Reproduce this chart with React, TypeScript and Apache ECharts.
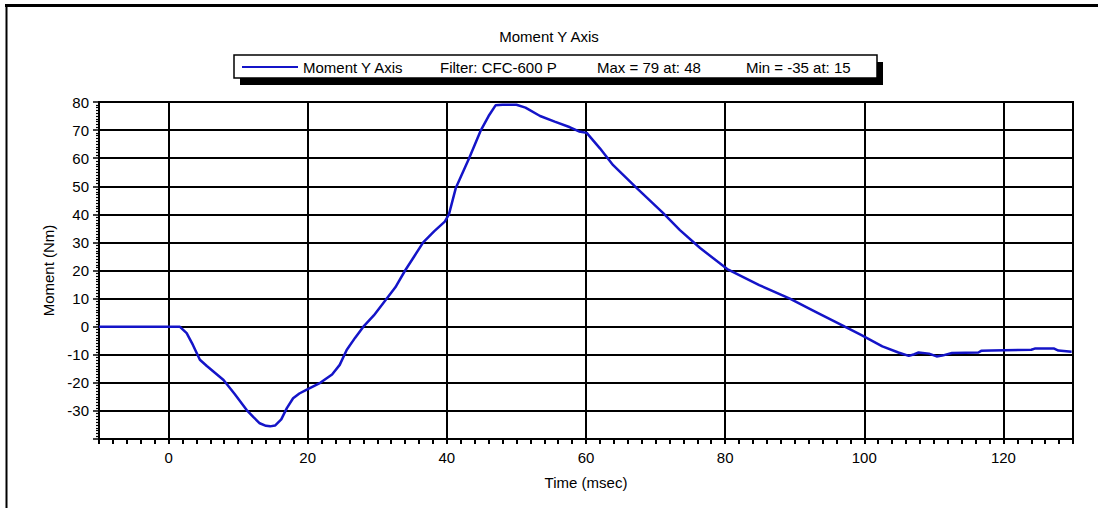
import React, { useEffect, useRef } from 'react';
import * as echarts from 'echarts';

const titleText = 'Moment Y Axis';
const seriesName = 'Moment Y Axis';
const legendNotes = ['Filter: CFC-600 P', 'Max = 79 at: 48', 'Min = -35 at: 15'];
const xAxisName = 'Time (msec)';
const yAxisName = 'Moment (Nm)';

const timeMs = [
  -10, 1.6, 2.6, 3.5, 4.5, 5.5, 6.7, 7.9, 9.5, 11.2, 12.2, 13.1, 14.0, 14.6, 15.3, 16.2,
  17.0, 17.9, 18.8, 19.8, 21.8, 23.5, 24.6, 25.6, 26.8, 28.0, 29.5, 31.2, 32.6, 34.0,
  35.3, 36.6, 38.2, 39.7, 40.3, 41.3, 43.2, 44.9, 46.0, 47.0, 48.0, 50.0, 51.3, 53.4,
  55.5, 57.7, 59.0, 60.1, 62.0, 63.9, 67.3, 71.1, 73.5, 76.4, 80.3, 84.9, 89.3, 93.0,
  97.2, 99.6, 102.6, 104.9, 106.4, 107.2, 107.8, 109.3, 110.4, 111.2, 112.6, 116.4,
  116.8, 118.3, 124.0, 124.5, 127.3, 127.9, 129.8,
];
const momentNm = [
  0, 0, -2.3, -6.5, -11.8, -14, -16.5, -19, -24, -29.6, -32.2, -34.4, -35.3, -35.5, -35.2, -33,
  -29, -25.5, -23.8, -22.5, -20, -17, -13.6, -8.3, -4, 0, 4, 9.5, 14, 20,
  25, 30, 34, 37.4, 40, 49.5, 60, 70, 75, 78.8, 79, 79, 78, 75,
  73, 71, 69.5, 69, 63.5, 57.5, 49.3, 40.4, 34.4, 28, 20.5, 14.8, 10, 5.3,
  0, -3, -7, -9.2, -10.4, -9.8, -9.2, -9.6, -10.6, -10.3, -9.4, -9.2,
  -8.6, -8.5, -8.2, -7.8, -7.8, -8.5, -8.9,
];
const xGridValues = [0, 20, 40, 60, 80, 100, 120];
const xLabelStep = 20;
const hiddenYLabel = -40;

const FONT = '"Liberation Sans", Arial, sans-serif';

export default function App() {
  const ref = useRef<HTMLDivElement>(null);
  useEffect(() => {
    if (!ref.current) return;
    const chart = echarts.init(ref.current, undefined, { renderer: 'svg' });
    const data = timeMs.map((t, i) => [t, momentNm[i]]);
    const noteX = [440, 597, 746];
    chart.setOption({
      animation: false,
      backgroundColor: '#ffffff',
      textStyle: { fontFamily: FONT },
      title: {
        text: titleText,
        left: 'center',
        top: 24,
        textStyle: { fontSize: 15, fontWeight: 'normal', color: '#000', fontFamily: FONT },
      },
      legend: {
        left: 242,
        top: 59,
        padding: 0,
        icon: 'rect',
        itemWidth: 56,
        itemHeight: 2,
        selectedMode: false,
        data: [seriesName],
        z: 10,
        textStyle: { fontSize: 15, color: '#000', fontFamily: FONT, lineHeight: 16 },
      },
      graphic: [
        { type: 'line', z: 0, shape: { x1: 5, y1: 5.5, x2: 1098, y2: 5.5 }, style: { stroke: '#000', lineWidth: 3 } },
        { type: 'line', z: 0, shape: { x1: 6.5, y1: 4, x2: 6.5, y2: 508 }, style: { stroke: '#000', lineWidth: 2 } },
        { type: 'rect', z: 1, shape: { x: 240, y: 62, width: 643, height: 23 }, style: { fill: '#000' } },
        { type: 'rect', z: 2, shape: { x: 234, y: 55, width: 643, height: 23 }, style: { fill: '#fff', stroke: '#000', lineWidth: 1.5 } },
        ...legendNotes.map((t, i) => ({
          type: 'text',
          z: 3,
          x: noteX[i],
          y: 67,
          style: { text: t, fill: '#000', font: `15px ${FONT}`, verticalAlign: 'middle', align: 'left' },
        })),
      ],
      grid: {
        left: 99,
        right: 25,
        top: 102,
        bottom: 69,
        show: true,
        borderColor: '#000',
        borderWidth: 2,
        backgroundColor: 'transparent',
      },
      xAxis: {
        type: 'value',
        min: -10,
        max: 130,
        interval: 2,
        name: xAxisName,
        nameLocation: 'middle',
        nameGap: 36,
        nameTextStyle: { fontSize: 15, color: '#000', fontFamily: FONT },
        axisLine: { onZero: false, lineStyle: { color: '#000', width: 2 } },
        axisTick: { length: 5, lineStyle: { color: '#000', width: 2 } },
        axisLabel: {
          formatter: (v: number) => (Math.round(v) % xLabelStep === 0 ? String(Math.round(v)) : ''),
          margin: 11,
          fontSize: 15,
          color: '#000',
          fontFamily: FONT,
        },
        splitLine: { show: false },
      },
      yAxis: {
        type: 'value',
        min: -40,
        max: 80,
        interval: 10,
        name: yAxisName,
        nameLocation: 'middle',
        nameGap: 42,
        nameTextStyle: { fontSize: 15, color: '#000', fontFamily: FONT },
        axisLine: { show: true, onZero: false, lineStyle: { color: '#000', width: 2 } },
        axisTick: { show: true, length: 6, lineStyle: { color: '#000', width: 1.5 } },
        minorTick: { show: true, splitNumber: 10, length: 3, lineStyle: { color: '#000', width: 1.2 } },
        axisLabel: {
          formatter: (v: number) => (v === hiddenYLabel ? '' : String(v)),
          margin: 10,
          fontSize: 15,
          color: '#000',
          fontFamily: FONT,
        },
        splitLine: { show: true, lineStyle: { color: '#000', width: 2 } },
      },
      series: [
        {
          type: 'line',
          name: seriesName,
          data,
          symbol: 'none',
          showSymbol: false,
          color: '#1414c8',
          z: 3,
          lineStyle: { color: '#1414c8', width: 2.5 },
          markLine: {
            silent: true,
            symbol: 'none',
            z: 1,
            label: { show: false },
            lineStyle: { color: '#000', width: 2, type: 'solid' },
            data: xGridValues.map((x) => ({ xAxis: x })),
          },
        },
      ],
    });
    return () => chart.dispose();
  }, []);
  return (
    <div
      ref={ref}
      style={{ position: 'fixed', left: 0, top: 0, width: 1098, height: 508 }}
    />
  );
}
